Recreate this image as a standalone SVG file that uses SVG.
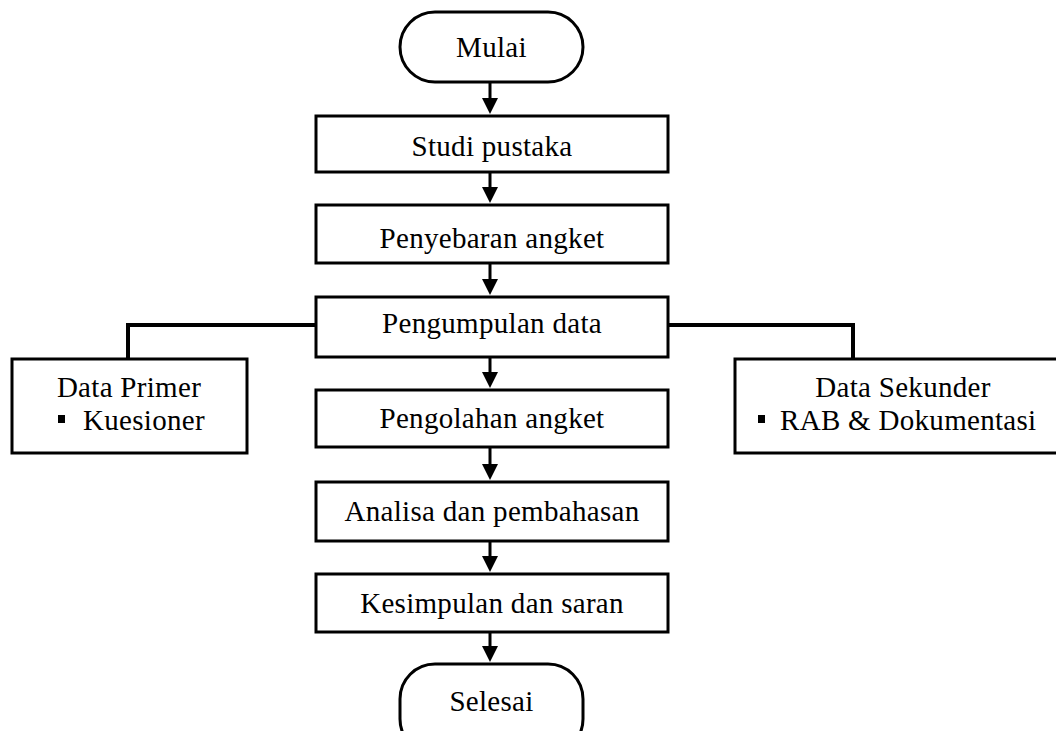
<svg xmlns="http://www.w3.org/2000/svg" width="1056" height="731" viewBox="0 0 1056 731">
<defs>
<style>
.b{fill:#fff;stroke:#000;stroke-width:3}
.t{font-family:"Liberation Serif","Times New Roman",serif;font-size:29px;letter-spacing:0.3px;fill:#000;text-anchor:middle}
.tl{font-family:"Liberation Serif","Times New Roman",serif;font-size:29px;letter-spacing:0.3px;fill:#000}
.c{fill:none;stroke:#000;stroke-width:4}
.a{stroke:#000;stroke-width:3;fill:none}
.h{fill:#000}
</style>
</defs>
<rect width="1056" height="731" fill="#fff"/>
<g id="connectors">
<path class="a" d="M490 82V100"/><polygon class="h" points="482,98 498,98 490,114"/>
<path class="a" d="M490 172V189"/><polygon class="h" points="482,187 498,187 490,203"/>
<path class="a" d="M490 263V281"/><polygon class="h" points="482,279 498,279 490,295"/>
<path class="a" d="M490 357V374"/><polygon class="h" points="482,372 498,372 490,388"/>
<path class="a" d="M490 447V466"/><polygon class="h" points="482,464 498,464 490,480"/>
<path class="a" d="M490 541V558"/><polygon class="h" points="482,556 498,556 490,572"/>
<path class="a" d="M490 632V648"/><polygon class="h" points="482,646 498,646 490,662"/>
<path class="c" d="M316 325H128V359"/>
<path class="c" d="M668 325H853V359"/>
</g>
<g id="mulai"><rect class="b" x="400" y="12" width="183" height="70" rx="35" ry="35"/><text class="t" x="491.5" y="57">Mulai</text></g>
<g id="studi"><rect class="b" x="316" y="116" width="352" height="56"/><text class="t" x="492" y="156">Studi pustaka</text></g>
<g id="penyebaran"><rect class="b" x="316" y="205" width="352" height="58"/><text class="t" x="492" y="248">Penyebaran angket</text></g>
<g id="pengumpulan"><rect class="b" x="316" y="297" width="352" height="60"/><text class="t" x="492" y="333">Pengumpulan data</text></g>
<g id="pengolahan"><rect class="b" x="316" y="390" width="352" height="57"/><text class="t" x="492" y="428">Pengolahan angket</text></g>
<g id="analisa"><rect class="b" x="316" y="482" width="352" height="59"/><text class="t" x="492" y="521">Analisa dan pembahasan</text></g>
<g id="kesimpulan"><rect class="b" x="316" y="574" width="352" height="58"/><text class="t" x="492" y="613">Kesimpulan dan saran</text></g>
<g id="selesai"><rect class="b" x="400" y="664" width="183" height="90" rx="35" ry="35"/><text class="t" x="491.5" y="711">Selesai</text></g>
<g id="data-primer"><rect class="b" x="12" y="359" width="235" height="94"/><text class="t" x="129" y="397">Data Primer</text><rect class="h" x="58" y="415" width="7" height="8"/><text class="tl" x="83" y="430">Kuesioner</text></g>
<g id="data-sekunder"><rect class="b" x="735" y="359" width="330" height="94"/><text class="t" x="903" y="397">Data Sekunder</text><rect class="h" x="758" y="415" width="7" height="8"/><text class="tl" x="780" y="430">RAB &amp; Dokumentasi</text></g>
</svg>
